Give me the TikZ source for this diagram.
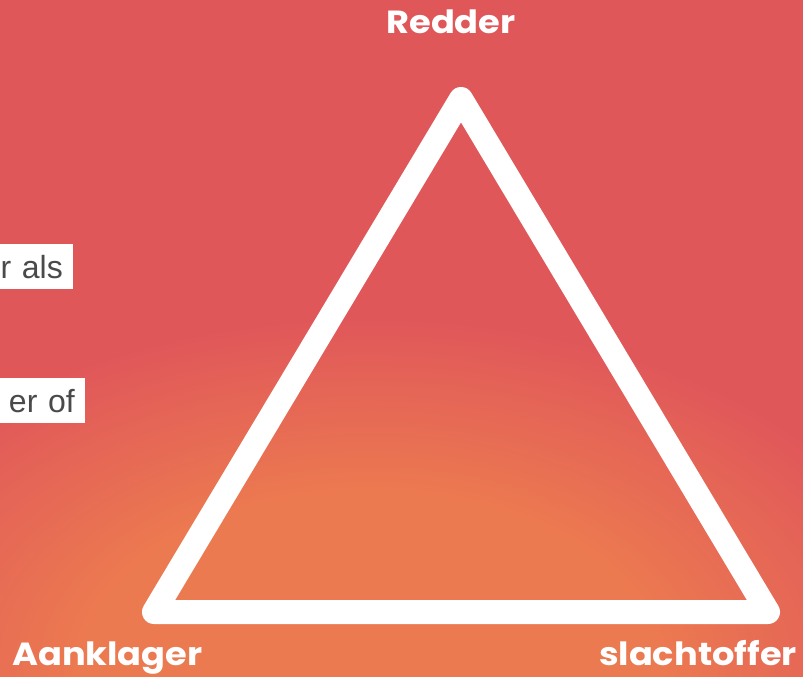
\documentclass[tikz,border=0pt]{standalone}
\usepackage{fontspec}
\setmainfont[FakeStretch=1.1]{Poppins}
\newfontfamily\hintfont{Liberation Sans}
\definecolor{bgred}{HTML}{E0575A}
\definecolor{bgorange}{HTML}{EC7A50}
\definecolor{hintgray}{HTML}{4A4A4A}
\pgfdeclareradialshading{blob}{\pgfpointorigin}{%
  color(0bp)=(bgorange); color(5.5bp)=(bgorange);
  color(11bp)=(bgred); color(50bp)=(bgred)}
\tikzset{
  role/.style={text=white, inner sep=0pt, font=\bfseries\fontsize{32}{32}\selectfont},
  hint/.style={fill=white, text=hintgray, inner xsep=10pt, inner ysep=7pt,
    text height=27pt, text depth=4pt, text width=100pt, align=right,
    font=\hintfont\fontsize{32}{32}\selectfont}
}
\begin{document}
\begin{tikzpicture}[x=1pt,y=-1pt]
\useasboundingbox (0,0) rectangle (803,677);
% background
\begin{scope}
  \clip (0,0) rectangle (803,677);
  \shade[shading=blob] (370,670) ellipse [x radius=1300pt, y radius=800pt];
\end{scope}
% text boxes cut off at the left
\node[hint, anchor=base east] (als) at (73,278) {r als};
\node[hint, anchor=base east] (of) at (85,412) {er of};
% triangle
\coordinate (top) at (461,99);
\coordinate (left) at (154,612);
\coordinate (right) at (768,612);
\draw[white, line width=24pt, line join=round] (top) -- (left) -- (right) -- cycle;
% roles
\node[role, anchor=base] (redder) at (451,34) {Redder};
\node[role, anchor=base west] (aanklager) at (12,665) {Aanklager};
\node[role, anchor=base east] (slachtoffer) at (797,665) {slachtoffer};
\end{tikzpicture}
\end{document}
